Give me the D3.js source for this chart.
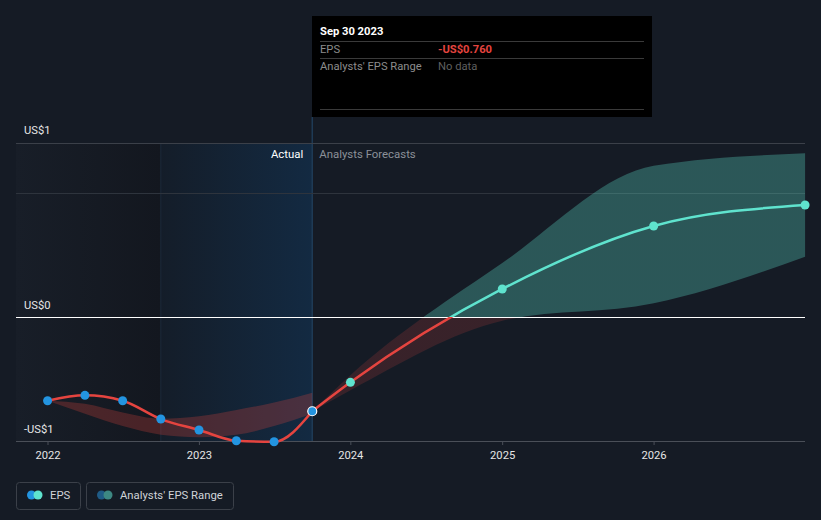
<!DOCTYPE html>
<html>
<head>
<meta charset="utf-8">
<script src="https://cdn.jsdelivr.net/npm/d3@7"></script>
<style>
  html, body { margin: 0; padding: 0; background: #151b25; }
  svg { display: block; font-family: Roboto, "Noto Sans", sans-serif; }
</style>
</head>
<body>
<svg id="chart" width="821" height="520"></svg>
<script>
// ---------- data ----------
const actualDates = ["2021-12-31","2022-03-31","2022-06-30","2022-09-30","2022-12-31","2023-03-31","2023-06-30","2023-09-30"];
const actualEps   = [-0.675, -0.632, -0.675, -0.823, -0.911, -0.998, -1.006, -0.760];
const pastRangeLow  = [-0.675, -0.78, -0.88, -0.95, -0.97, -0.95, -0.88, -0.78];
const pastRangeHigh = [-0.675, -0.70, -0.77, -0.82, -0.80, -0.75, -0.69, -0.61];

const forecastDates = ["2023-09-30","2023-12-31","2024-12-31","2025-12-31","2026-12-31"];
const forecastEps   = [-0.760, -0.527, 0.226, 0.734, 0.903];
const forecastLow   = [-0.760, -0.59, -0.03, 0.11, 0.486];
const forecastHigh  = [-0.760, -0.47, 0.435, 1.22, 1.32];

const yTickValues = [1, 0, -1];
const yTickLabels = ["US$1", "US$0", "-US$1"];
const xTickYears  = [2022, 2023, 2024, 2025, 2026];

const tooltipDate = "Sep 30 2023";
const tooltipEps  = "-US$0.760";

// ---------- layout ----------
const svg = d3.select("#chart");
const W = 821, H = 520;
const plotLeft = 16, plotRight = 805, plotTop = 143, plotBottom = 441;
const parse = d3.timeParse("%Y-%m-%d");

const x = d3.scaleTime()
  .domain([new Date(2022,0,1), new Date(2027,0,1)])
  .range([48, 805.5]);
const y = d3.scaleLinear().domain([-1, 0]).range([441, 317]);

const RED = "#e5443f", TEAL = "#5fe3ce", BLUE = "#2394e0";
const FS = 11.2;

const actual = actualDates.map((d,i) => ({date: parse(d), v: actualEps[i], lo: pastRangeLow[i], hi: pastRangeHigh[i]}));
const forecast = forecastDates.map((d,i) => ({date: parse(d), v: forecastEps[i], lo: forecastLow[i], hi: forecastHigh[i]}));

const defs = svg.append("defs");
const zeroOff = (y(0) - plotTop) / (plotBottom - plotTop);

function vGrad(id, stops) {
  const g = defs.append("linearGradient").attr("id", id)
    .attr("gradientUnits", "userSpaceOnUse")
    .attr("x1", 0).attr("x2", 0).attr("y1", plotTop).attr("y2", plotBottom);
  stops.forEach(s => g.append("stop").attr("offset", s[0]).attr("stop-color", s[1]).attr("stop-opacity", s[2]));
}
vGrad("lineGrad", [[0, TEAL, 1], [zeroOff, TEAL, 1], [zeroOff, RED, 1], [1, RED, 1]]);
vGrad("fcBandGrad", [[0, TEAL, 0.3], [zeroOff, TEAL, 0.3], [zeroOff, RED, 0.17], [1, RED, 0.17]]);

function hGrad(id, stops) {
  const g = defs.append("linearGradient").attr("id", id).attr("x1", 0).attr("x2", 1).attr("y1", 0).attr("y2", 0);
  stops.forEach(s => g.append("stop").attr("offset", s[0]).attr("stop-color", s[1]));
}
hGrad("pastGrad", [[0, "#181e28"], [1, "#13171f"]]);
hGrad("lastYearGrad", [[0, "#141d29"], [1, "#132a42"]]);

// background
svg.append("rect").attr("width", W).attr("height", H).attr("fill", "#151b25");

const cut = parse("2023-09-30");
const yearBefore = parse("2022-09-30");

// past shading
svg.append("rect").attr("x", plotLeft).attr("y", plotTop)
  .attr("width", x(yearBefore) - plotLeft).attr("height", plotBottom - plotTop)
  .attr("fill", "url(#pastGrad)");
svg.append("rect").attr("x", x(yearBefore)).attr("y", plotTop)
  .attr("width", x(cut) - x(yearBefore)).attr("height", plotBottom - plotTop)
  .attr("fill", "url(#lastYearGrad)");
svg.append("line").attr("x1", x(yearBefore)).attr("x2", x(yearBefore))
  .attr("y1", plotTop).attr("y2", plotBottom).attr("stroke", "#1c2a3b").attr("stroke-width", 1);
svg.append("line").attr("x1", x(cut)).attr("x2", x(cut))
  .attr("y1", 117).attr("y2", plotBottom).attr("stroke", "#1e3a55").attr("stroke-width", 1.5);

// grid
svg.append("line").attr("x1", plotLeft).attr("x2", plotRight).attr("y1", plotTop + 0.5).attr("y2", plotTop + 0.5)
  .attr("stroke", "#3b4049").attr("stroke-width", 1);
yTickValues.forEach((v) => {
  if (v === 0) return;
  const yy = y(v) + 0.5;
  svg.append("line").attr("x1", plotLeft).attr("x2", plotRight).attr("y1", yy).attr("y2", yy)
    .attr("stroke", v === -1 ? "#4a4f58" : "#2e343d").attr("stroke-width", 1);
});

// y labels
yTickValues.forEach((v, i) => {
  const ly = i === 0 ? plotTop - 12.5 : y(v) - 11.5;
  svg.append("text").attr("x", 24).attr("y", ly).attr("dy", "0.35em")
    .attr("fill", "#e6e6e6").attr("font-size", FS).text(yTickLabels[i]);
});

// x axis
const xAxisG = svg.append("g").attr("transform", `translate(0,${plotBottom})`);
xAxisG.append("line").attr("x1", plotLeft).attr("x2", plotRight).attr("y1", 0.5).attr("y2", 0.5).attr("stroke", "#4a4f58");
xTickYears.forEach(yr => {
  const xx = x(new Date(yr, 0, 1));
  xAxisG.append("line").attr("x1", xx).attr("x2", xx).attr("y1", 0).attr("y2", 4).attr("stroke", "#4a4f58");
  xAxisG.append("text").attr("x", xx).attr("y", 14).attr("dy", "0.35em").attr("text-anchor", "middle")
    .attr("fill", "#e6e6e6").attr("font-size", FS).text(yr);
});

// bands
const area = d3.area().x(d => x(d.date)).y0(d => y(d.lo)).y1(d => y(d.hi)).curve(d3.curveMonotoneX);
svg.append("path").datum(actual).attr("d", area).attr("fill", RED).attr("fill-opacity", 0.26);
svg.append("path").datum(forecast).attr("d", area).attr("fill", "url(#fcBandGrad)");

// zero line
svg.append("line").attr("x1", plotLeft).attr("x2", plotRight).attr("y1", y(0) + 0.5).attr("y2", y(0) + 0.5)
  .attr("stroke", "#ffffff").attr("stroke-width", 1);

// lines
const line = d3.line().x(d => x(d.date)).y(d => y(d.v)).curve(d3.curveMonotoneX);
svg.append("path").datum(actual).attr("d", line).attr("fill", "none")
  .attr("stroke", "url(#lineGrad)").attr("stroke-width", 2.5);
svg.append("path").datum(forecast).attr("d", line).attr("fill", "none")
  .attr("stroke", "url(#lineGrad)").attr("stroke-width", 2.5);

// points
svg.selectAll(".fc").data(forecast.slice(1)).enter().append("circle")
  .attr("cx", d => x(d.date)).attr("cy", d => y(d.v)).attr("r", 4.5).attr("fill", TEAL);
svg.selectAll(".ac").data(actual).enter().append("circle")
  .attr("cx", d => x(d.date)).attr("cy", d => y(d.v)).attr("r", 4.5).attr("fill", BLUE)
  .attr("stroke", (d, i) => i === actual.length - 1 ? "#ffffff" : "none")
  .attr("stroke-width", 1.2);

// Actual / forecast labels
svg.append("text").attr("x", x(cut) - 9).attr("y", 154).attr("dy", "0.35em").attr("text-anchor", "end")
  .attr("fill", "#ffffff").attr("font-size", 11.4).text("Actual");
svg.append("text").attr("x", x(cut) + 7).attr("y", 154).attr("dy", "0.35em")
  .attr("fill", "#8b9098").attr("font-size", 11.4).text("Analysts Forecasts");

// tooltip
const tt = svg.append("g");
tt.append("rect").attr("x", 312).attr("y", 16).attr("width", 340).attr("height", 101).attr("fill", "#000000");
tt.append("text").attr("x", 320).attr("y", 31).attr("dy", "0.35em").attr("fill", "#ffffff")
  .attr("font-size", FS).attr("font-weight", "bold").text(tooltipDate);
[41, 58, 109].forEach(yy => tt.append("line").attr("x1", 320).attr("x2", 644).attr("y1", yy + 0.5).attr("y2", yy + 0.5)
  .attr("stroke", "#3a3a3a").attr("stroke-width", 1));
tt.append("text").attr("x", 320).attr("y", 49.5).attr("dy", "0.35em").attr("fill", "#8c8c8c")
  .attr("font-size", FS).text("EPS");
tt.append("text").attr("x", 438).attr("y", 49.5).attr("dy", "0.35em").attr("fill", "#e5443f")
  .attr("font-size", FS).attr("font-weight", "bold").text(tooltipEps);
tt.append("text").attr("x", 320).attr("y", 66).attr("dy", "0.35em").attr("fill", "#8c8c8c")
  .attr("font-size", FS).text("Analysts' EPS Range");
tt.append("text").attr("x", 438).attr("y", 66).attr("dy", "0.35em").attr("fill", "#5f5f5f")
  .attr("font-size", FS).text("No data");

// legend
const legend = [
  {label: "EPS", c1: BLUE, c2: TEAL, x: 16, w: 65},
  {label: "Analysts' EPS Range", c1: "#1f5b86", c2: "#3d8883", x: 86, w: 148}
];
legend.forEach(l => {
  const g = svg.append("g").attr("transform", `translate(${l.x},482)`);
  g.append("rect").attr("x", 0.5).attr("y", 0.5).attr("width", l.w - 1).attr("height", 27).attr("rx", 3)
    .attr("fill", "none").attr("stroke", "#3b4049");
  g.append("circle").attr("cx", 15.5).attr("cy", 13).attr("r", 4.5).attr("fill", l.c1);
  g.append("circle").attr("cx", 22).attr("cy", 13).attr("r", 4.5).attr("fill", l.c2);
  g.append("text").attr("x", 34).attr("y", 13.5).attr("dy", "0.35em").attr("fill", "#d0d3d8")
    .attr("font-size", 11.3).text(l.label);
});
</script>
</body>
</html>
